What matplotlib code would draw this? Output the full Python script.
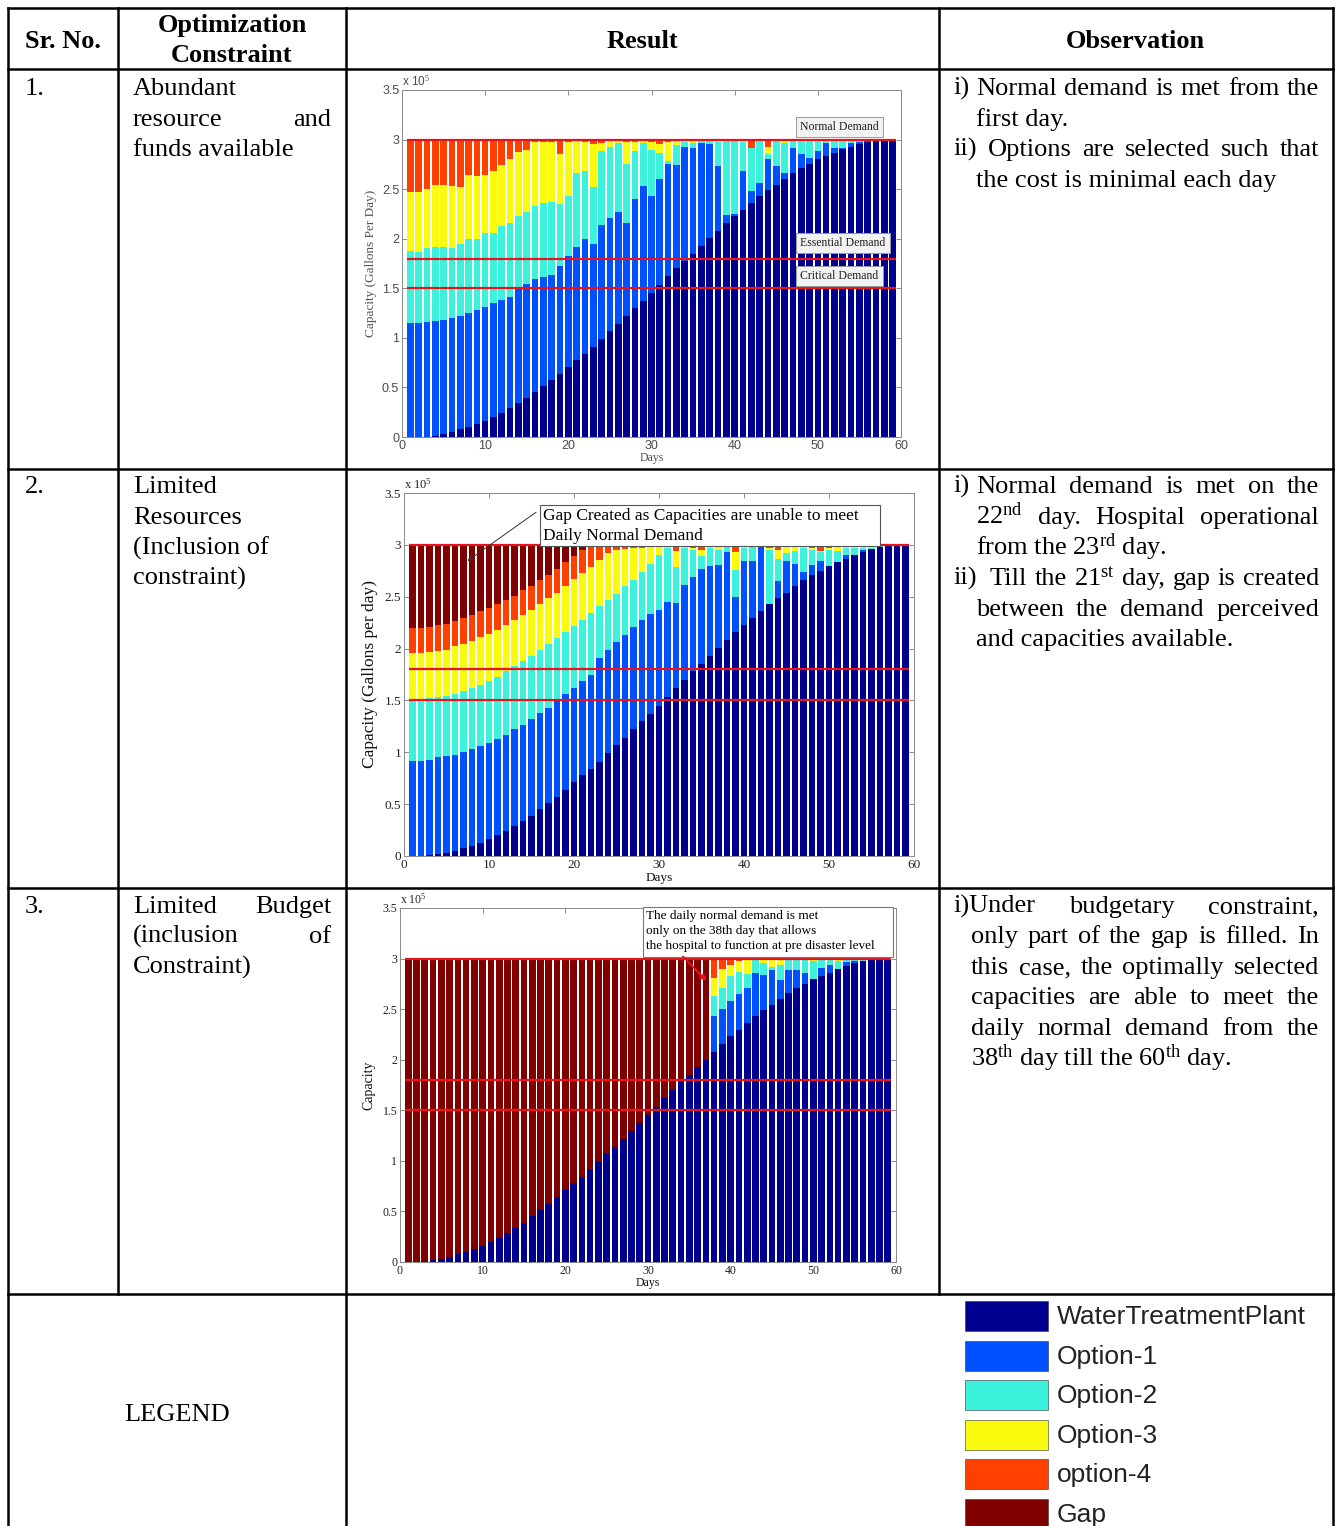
import numpy as np
import matplotlib
matplotlib.use('Agg')
import matplotlib.pyplot as plt
from matplotlib.patches import Rectangle

plt.rcParams['mathtext.fontset'] = 'custom'
plt.rcParams['mathtext.rm'] = 'Liberation Serif'
plt.rcParams['mathtext.it'] = 'Liberation Serif:italic'
plt.rcParams['mathtext.bf'] = 'Liberation Serif:bold'

SERIF = 'Liberation Serif'
SANS = 'Liberation Sans'

# ---------------- data (capacity in 1e5 gallons/day, read as the top of each colour) ----------------
days = np.arange(1, 60)

series_names = ['WaterTreatmentPlant', 'Option-1', 'Option-2', 'Option-3', 'option-4', 'Gap']
series_colors = ['#00008F', '#0050FF', '#3CF2DC', '#FAFA0F', '#FF4000', '#800000']

normal_demand = 3.0
essential_demand = 1.8
critical_demand = 1.5

# water treatment plant restoration (same in all three runs)
wtp = [0.0, 0.0, 0.005, 0.015, 0.03, 0.05, 0.08, 0.10, 0.13, 0.16,
       0.20, 0.24, 0.29, 0.34, 0.39, 0.45, 0.51, 0.57, 0.64, 0.71,
       0.78, 0.84, 0.91, 0.99, 1.07, 1.14, 1.22, 1.30, 1.37, 1.45,
       1.53, 1.62, 1.70, 1.78, 1.85, 1.93, 2.01, 2.08, 2.16, 2.23,
       2.29, 2.36, 2.43, 2.49, 2.54, 2.60, 2.66, 2.71, 2.75, 2.80,
       2.83, 2.86, 2.90, 2.93, 2.96, 2.98, 3.0, 3.0, 3.0]

# 1. abundant resources
c1_opt1 = [1.15, 1.15, 1.16, 1.17, 1.18, 1.20, 1.22, 1.25, 1.28, 1.31,
           1.35, 1.38, 1.41, 1.50, 1.54, 1.59, 1.61, 1.63, 1.72, 1.83,
           1.92, 2.00, 1.95, 2.14, 2.21, 2.27, 2.16, 2.40, 2.53, 2.43,
           2.60, 2.75, 2.74, 2.93, 2.92, 2.97, 2.96, 2.73, 2.24, 2.25,
           2.68, 2.48, 2.56, 2.80, 2.73, 2.66, 2.91, 2.85, 2.81, 2.88,
           2.97, 2.92, 2.91, 2.97, 2.98, 2.99, 3.0, 3.0, 3.0]
c1_opt2 = [1.88, 1.87, 1.91, 1.92, 1.92, 1.91, 1.95, 2.00, 2.00, 2.06,
           2.06, 2.13, 2.16, 2.23, 2.27, 2.33, 2.36, 2.37, 2.35, 2.43,
           2.66, 2.68, 2.52, 2.88, 2.93, 2.97, 2.75, 2.88, 2.97, 2.89,
           2.86, 2.78, 2.95, 2.98, 2.97, 2.99, 2.99, 2.98, 2.99, 2.99,
           2.98, 2.92, 2.99, 2.85, 2.99, 2.97, 2.99, 2.99, 2.99, 2.99,
           2.99, 2.99, 2.99, 2.99, 2.99, 3.0, 3.0, 3.0, 3.0]
c1_opt3 = [2.47, 2.47, 2.50, 2.54, 2.54, 2.53, 2.52, 2.64, 2.63, 2.64,
           2.68, 2.74, 2.80, 2.87, 2.89, 2.98, 2.98, 2.98, 2.85, 2.98,
           2.99, 2.98, 2.96, 2.97, 2.99, 2.99, 2.98, 2.98, 2.99, 2.98,
           2.96, 2.98, 2.99, 2.99, 2.99, 3.0, 3.0, 3.0, 3.0, 3.0,
           3.0, 2.92, 3.0, 2.93, 3.0, 3.0, 3.0, 3.0, 3.0, 3.0,
           3.0, 3.0, 3.0, 3.0, 3.0, 3.0, 3.0, 3.0, 3.0]
c1_opt4 = [3.0] * 59

# 2. limited resources
c2_opt1 = [0.92, 0.92, 0.93, 0.95, 0.96, 0.97, 1.00, 1.03, 1.06, 1.09,
           1.13, 1.17, 1.22, 1.26, 1.32, 1.38, 1.43, 1.50, 1.56, 1.62,
           1.69, 1.75, 1.91, 1.99, 2.06, 2.13, 2.21, 2.28, 2.33, 2.37,
           2.45, 2.44, 2.61, 2.69, 2.77, 2.80, 2.81, 2.93, 2.50, 2.84,
           2.84, 2.98, 2.42, 2.65, 2.84, 2.82, 2.74, 2.81, 2.84, 2.78,
           2.82, 2.90, 2.89, 2.95, 2.95, 2.98, 3.0, 3.0, 3.0]
c2_opt2 = [1.50, 1.50, 1.52, 1.53, 1.54, 1.56, 1.59, 1.62, 1.65, 1.69,
           1.73, 1.78, 1.83, 1.88, 1.93, 1.99, 2.04, 2.10, 2.16, 2.22,
           2.28, 2.34, 2.41, 2.47, 2.53, 2.60, 2.66, 2.74, 2.82, 2.90,
           2.97, 2.79, 2.97, 2.95, 2.89, 2.97, 2.95, 2.98, 2.76, 2.97,
           2.98, 2.99, 2.95, 2.86, 2.92, 2.94, 2.97, 2.95, 2.93, 2.95,
           2.94, 2.97, 2.97, 2.97, 2.97, 3.0, 3.0, 3.0, 3.0]
c2_opt3 = [1.96, 1.96, 1.97, 1.98, 1.99, 2.02, 2.04, 2.07, 2.11, 2.14,
           2.18, 2.23, 2.28, 2.32, 2.37, 2.43, 2.49, 2.54, 2.60, 2.67,
           2.73, 2.79, 2.85, 2.92, 2.95, 2.96, 2.97, 2.97, 2.98, 2.98,
           2.98, 2.94, 2.98, 2.97, 2.95, 2.98, 2.98, 2.99, 2.93, 2.98,
           3.0, 3.0, 2.97, 2.95, 2.98, 2.98, 2.98, 2.97, 2.94, 2.97,
           2.98, 2.98, 3.0, 3.0, 3.0, 3.0, 3.0, 3.0, 3.0]
c2_opt4 = [2.20, 2.20, 2.21, 2.23, 2.24, 2.27, 2.29, 2.32, 2.36, 2.39,
           2.43, 2.47, 2.51, 2.56, 2.60, 2.66, 2.71, 2.77, 2.83, 2.89,
           2.95] + [3.0] * 38

# 3. limited budget: options only from day 38 on
c3_first_day = 38
c3_opt1 = [2.43, 2.50, 2.58, 2.65, 2.71, 2.86, 2.84, 2.89, 2.79, 2.89, 2.89,
           2.86, 2.79, 2.91, 2.94, 2.89, 2.97, 2.98, 2.98, 3.0, 3.0, 3.0]
c3_opt2 = [2.63, 2.71, 2.83, 2.87, 2.85, 2.99, 2.96, 2.92, 2.94, 2.99, 2.99,
           2.99, 2.98, 2.99, 2.99, 2.98, 3.0, 3.0, 3.0, 3.0, 3.0, 3.0]
c3_opt3 = [2.81, 2.90, 2.94, 2.98, 3.0, 3.0, 3.0, 3.0, 3.0, 3.0, 3.0,
           3.0, 3.0, 3.0, 3.0, 3.0, 3.0, 3.0, 3.0, 3.0, 3.0, 3.0]
c3_opt4 = [3.0] * 22

# ---------------- page ----------------
W, H = 1336, 1526
fig = plt.figure(figsize=(W / 100, H / 100), dpi=100)
page = fig.add_axes([0, 0, 1, 1])
page.set_xlim(0, W)
page.set_ylim(H, 0)
page.axis('off')
renderer = fig.canvas.get_renderer()

LW = 1.8


def hline(y, x0, x1):
    page.plot([x0, x1], [y, y], color='black', lw=LW, solid_capstyle='projecting')


def vline(x, y0, y1):
    page.plot([x, x], [y0, y1], color='black', lw=LW, solid_capstyle='projecting')


for y in [8, 69, 469, 888, 1294]:
    hline(y, 8, 1333)
vline(8, 8, 1526)
vline(118, 8, 1294)
vline(346, 8, 1526)
vline(939, 8, 1294)
vline(1333, 8, 1526)


def put(text, x0, y, x1=None, size=19, weight='normal', family=SERIF, ha='left', color='black'):
    # y is the visual middle of the line, x1 given -> justified between x0 and x1
    yb = y + 8
    if x1 is None:
        page.text(x0, yb, text, fontsize=size, fontweight=weight, family=family,
                  ha=ha, va='baseline', color=color)
        return
    words = text.split(' ')
    objs = [page.text(0, yb, w, fontsize=size, fontweight=weight, family=family,
                      ha='left', va='baseline', color=color) for w in words]
    widths = [o.get_window_extent(renderer).width for o in objs]
    gap = (x1 - x0 - sum(widths)) / max(len(words) - 1, 1)
    x = x0
    for o, w in zip(objs, widths):
        o.set_x(x)
        x += w + gap


# header
put('Sr. No.', 63, 40, weight='bold', ha='center')
put('Optimization', 232, 24, weight='bold', ha='center')
put('Constraint', 232, 54, weight='bold', ha='center')
put('Result', 642, 40, weight='bold', ha='center')
put('Observation', 1135, 40, weight='bold', ha='center')

# first two columns
put('1.', 25, 87)
put('2.', 25, 485)
put('3.', 25, 905)
put('Abundant', 133, 87)
put('resource and', 133, 118, 331)
put('funds available', 133, 148)
put('Limited', 133, 485)
put('Resources', 133, 516)
put('(Inclusion of', 133, 547)
put('constraint)', 133, 577)
put('Limited Budget', 133, 905, 331)
put('(inclusion of', 133, 935, 331)
put('Constraint)', 133, 966)
put('LEGEND', 177, 1413, ha='center')

# observations
put('i)', 953, 87)
put('Normal demand is met from the', 976, 87, 1319)
put('first day.', 976, 118)
put('ii)', 953, 148)
put('Options are selected such that', 988, 148, 1319)
put('the cost is minimal each day', 976, 179)

put('i)', 953, 485)
put('Normal demand is met on the', 976, 485, 1319)
put(r'22$^{\mathrm{nd}}$ day. Hospital operational', 976, 516, 1319)
put(r'from the 23$^{\mathrm{rd}}$ day.', 976, 547)
put('ii)', 953, 577)
put(r'Till the 21$^{\mathrm{st}}$ day, gap is created', 990, 577, 1319)
put('between the demand perceived', 976, 608, 1319)
put('and capacities available.', 976, 638)

put('i)Under budgetary constraint,', 953, 905, 1319)
put('only part of the gap is filled. In', 971, 935, 1319)
put('this case, the optimally selected', 971, 966, 1319)
put('capacities are able to meet the', 971, 996, 1319)
put('daily normal demand from the', 971, 1027, 1319)
put(r'38$^{\mathrm{th}}$ day till the 60$^{\mathrm{th}}$ day.', 971, 1058)

# legend block
for i, (name, col) in enumerate(zip(series_names, series_colors)):
    yc = 1316 + 39.6 * i
    page.add_patch(Rectangle((965, yc - 15), 83, 30, facecolor=col, edgecolor='#333333', lw=0.4))
    page.text(1057, yc + 1, name, fontsize=19, family=SANS, color='#222222', va='center', ha='left')


# ---------------- charts ----------------
def draw_chart(box, tops, tick_family, tick_size, tick_color, ylabel, ylabel_size, ylabel_color,
               x10_size, days_size):
    l, t, r, b = box
    ax = fig.add_axes([l / W, 1 - b / H, (r - l) / W, (b - t) / H])
    prev = np.zeros(len(days))
    for top, col in zip(tops, series_colors):
        top = np.maximum(np.asarray(top, float), prev)
        ax.bar(days, top - prev, bottom=prev, width=0.8, color=col, linewidth=0, zorder=2)
        prev = top
    ax.hlines([normal_demand, essential_demand, critical_demand], 0.6, 59.4,
              colors='#E8141C', lw=1.6, zorder=3)
    ax.set_xlim(0, 60)
    ax.set_ylim(0, 3.5)
    ax.set_xticks(np.arange(0, 61, 10))
    ax.set_yticks(np.arange(0, 3.51, 0.5))
    ax.set_yticklabels(['0', '0.5', '1', '1.5', '2', '2.5', '3', '3.5'])
    ax.tick_params(direction='in', top=True, right=True, length=3.5, width=0.6,
                   color='#777777', labelsize=tick_size, labelcolor=tick_color, pad=2)
    for lab in ax.get_xticklabels() + ax.get_yticklabels():
        lab.set_family(tick_family)
        lab.set_fontsize(tick_size)
    for s in ax.spines.values():
        s.set_color('#8a8a8a')
        s.set_linewidth(0.7)
    ax.set_xlabel('Days', family=SERIF, fontsize=days_size, color=ylabel_color, labelpad=0)
    ax.xaxis.set_label_coords(0.5, -0.043)
    ax.set_ylabel(ylabel, family=SERIF, fontsize=ylabel_size, color=ylabel_color)
    ax.yaxis.set_label_coords(-0.05, 0.5)
    ax.text(0.0, 1.003, r'x 10$^5$', transform=ax.transAxes, ha='left', va='bottom',
            fontsize=x10_size, family=tick_family, color=tick_color)
    return ax


def with_late(first_day, late):
    top = np.array(wtp, float)
    top[first_day - 1:] = late
    return top


gap_top = [normal_demand] * 59

ax1 = draw_chart((402, 90, 901, 437),
                 [wtp, c1_opt1, c1_opt2, c1_opt3, c1_opt4, gap_top],
                 SANS, 9, '#4a4a4a', 'Capacity (Gallons Per Day)', 9.5, '#555555', 8.5, 8.5)
for txt, yc in [('Normal Demand', 3.13), ('Essential Demand', 1.955), ('Critical Demand', 1.625)]:
    ax1.text(47.9, yc, txt, family=SERIF, fontsize=8.5, color='#222222', va='center', ha='left', zorder=5,
             bbox=dict(boxstyle='square,pad=0.35', facecolor='#F2F2F2', edgecolor='#9a9a9a', lw=0.7))

ax2 = draw_chart((404, 493, 914, 856),
                 [wtp, c2_opt1, c2_opt2, c2_opt3, c2_opt4, gap_top],
                 SERIF, 9.5, '#222222', 'Capacity (Gallons per day)', 12.5, '#111111', 9, 9.5)
ax2.add_patch(Rectangle((16.0, 2.99), 40.0, 0.39, facecolor='white', edgecolor='#555555',
                        lw=0.8, zorder=4))
ax2.text(16.4, 3.275, 'Gap Created as Capacities are unable to meet', family=SERIF,
         fontsize=12.5, va='center', ha='left', zorder=5)
ax2.text(16.4, 3.085, 'Daily Normal Demand', family=SERIF, fontsize=12.5, va='center', ha='left', zorder=5)
ax2.annotate('', xy=(7.2, 2.83), xytext=(15.8, 3.33),
             arrowprops=dict(arrowstyle='->', color='#333333', lw=0.7), zorder=5)

ax3 = draw_chart((400, 908, 896, 1262),
                 [wtp, with_late(c3_first_day, c3_opt1), with_late(c3_first_day, c3_opt2),
                  with_late(c3_first_day, c3_opt3), with_late(c3_first_day, c3_opt4), gap_top],
                 SERIF, 8.5, '#222222', 'Capacity', 10, '#111111', 8.5, 8.5)
ax3.add_patch(Rectangle((29.4, 3.02), 30.2, 0.49, facecolor='white', edgecolor='#777777',
                        lw=0.8, zorder=4, clip_on=False))
for txt, yc in [('The daily normal demand is met', 3.42),
                ('only on the 38th day that allows', 3.27),
                ('the hospital to function at pre disaster level', 3.12)]:
    ax3.text(29.8, yc, txt, family=SERIF, fontsize=9.5, va='center', ha='left', zorder=5, clip_on=False)
ax3.annotate('', xy=(37.3, 2.76), xytext=(34.0, 3.04),
             arrowprops=dict(arrowstyle='-|>', color='#E8141C', lw=1.4, mutation_scale=8), zorder=5)

fig.savefig('out.png', dpi=100)
